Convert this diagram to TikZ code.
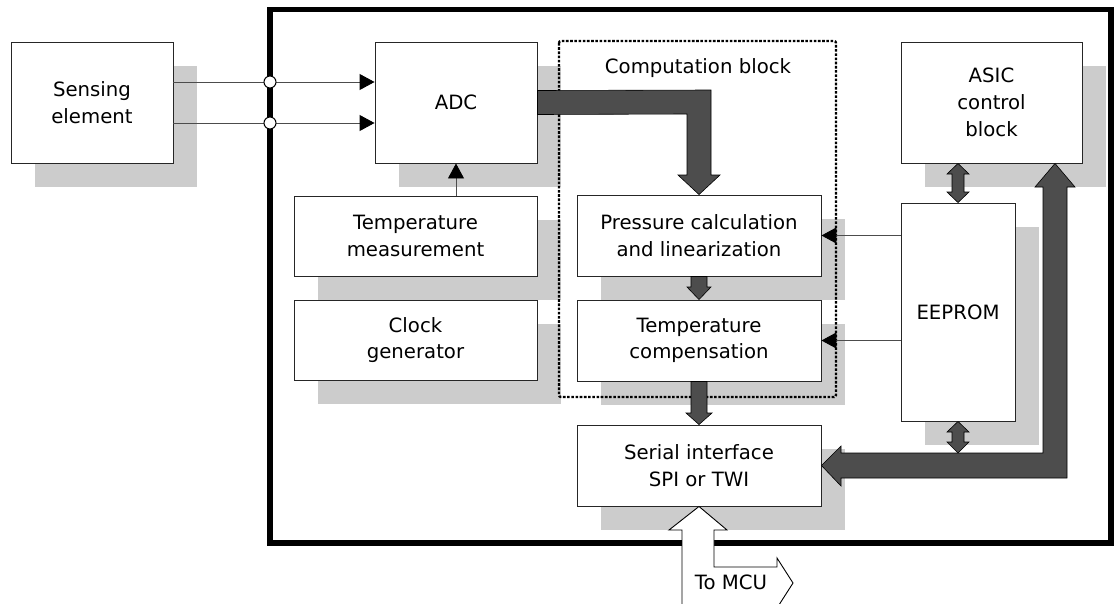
\documentclass[tikz,border=0pt]{standalone}
\usepackage{fontspec}
\setmainfont{DejaVu Sans}
\usetikzlibrary{arrows.meta,shadows,calc}
\definecolor{shade}{HTML}{CCCCCC}
\definecolor{busfill}{HTML}{4D4D4D}
\begin{document}
\begin{tikzpicture}[x=1pt,y=-1pt,
% common options for blocks:
blk/.style = {draw=black!85, line width=0.9pt, fill=white, align=center, inner sep=0,
            general shadow={fill=shade, shadow xshift=24pt, shadow yshift=-24pt}},
% fat data arrows:
fat/.style = {draw=black, line width=0.6pt, fill=busfill},
% thin signal lines:
wire/.style = {draw=black!70, line width=0.9pt, -{Triangle[length=15pt,width=16pt,color=black]}},
joint/.style = {circle, draw=black, line width=1pt, fill=white, minimum size=12pt, inner sep=0},
every node/.style = {font=\fontsize{19.7}{26.7}\selectfont}]
\useasboundingbox (0,0) rectangle (1116,603);
\clip (0,0) rectangle (1116,603);
% chip outline
\draw[line width=5.5pt] (270,9.5) rectangle (1111,543);
% blocks
\node[blk, minimum width=162pt, minimum height=121pt] (sense) at (92,102.5) {Sensing\\element};
\node[blk, minimum width=162pt, minimum height=121pt] (adc) at (456,102.5) {ADC};
\node[blk, minimum width=181pt, minimum height=121pt] (asic) at (991.5,102.5) {ASIC\\control\\block};
\node[blk, minimum width=243pt, minimum height=80pt] (tmeas) at (415.5,236) {Temperature\\measurement};
\node[blk, minimum width=243pt, minimum height=80pt] (clock) at (415.5,340) {Clock\\generator};
\node[blk, minimum width=244pt, minimum height=81pt] (press) at (699,235.5) {Pressure calculation\\and linearization};
\node[blk, minimum width=244pt, minimum height=81pt] (tcomp) at (699,340.5) {Temperature\\compensation};
\node[blk, minimum width=114pt, minimum height=218pt] (eeprom) at (958,312) {EEPROM};
\node[blk, minimum width=244pt, minimum height=81pt] (serial) at (699,465.5) {Serial interface\\SPI or TWI};
% computation block
\draw[dash pattern=on 2.6pt off 1.6pt, line width=2.4pt, rounded corners=2pt] (559,41) rectangle (836,397);
\node (comp) at (698,68) {Computation block};
% signal lines
\draw[wire] ([yshift=20.5pt]sense.east) -- ([yshift=20.5pt]adc.west);
\draw[wire] ([yshift=-20.5pt]sense.east) -- ([yshift=-20.5pt]adc.west);
\node[joint] (j1) at (270,82) {};
\node[joint] (j2) at (270,123) {};
\draw[wire] (adc.south |- tmeas.north) -- (adc.south);
\draw[wire] (eeprom.west |- press.east) -- (press.east);
\draw[wire] (eeprom.west |- tcomp.east) -- (tcomp.east);
% data paths
\draw[fat] ([yshift=12pt]adc.east) -- (711,90) -- (711,175) -- (720,175) -- (press.north)
  -- (678,175) -- (687,175) -- (687,114) -- ([yshift=-12pt]adc.east) -- cycle;
\draw[fat] ([xshift=-8pt]press.south) -- (691,287) -- (687,287) -- (tcomp.north)
  -- (711,287) -- (707,287) -- ([xshift=8pt]press.south) -- cycle;
\draw[fat] ([xshift=-8pt]tcomp.south) -- (691,413) -- (686,413) -- (serial.north)
  -- (712,413) -- (707,413) -- ([xshift=8pt]tcomp.south) -- cycle;
\draw[fat] (eeprom.north |- asic.south) -- (969,174) -- (964,174) -- (964,192) -- (969,192)
  -- (eeprom.north) -- (947,192) -- (952,192) -- (952,174) -- (947,174) -- cycle;
\draw[fat] (eeprom.south) -- (969,432) -- (964,432) -- (964,442) -- (969,442)
  -- (958,453) -- (947,442) -- (952,442) -- (952,432) -- (947,432) -- cycle;
\draw[fat] (serial.east) -- (841,446) -- (841,453) -- (1043,453) -- (1043,187) -- (1035,187)
  -- (1055,0 |- asic.south) -- (1075,187) -- (1067,187) -- (1067,478) -- (841,478)
  -- (841,486) -- cycle;
% link to the MCU
\draw[line width=0.9pt, fill=white] (serial.south) -- (727,530) -- (714,530) -- (714,567)
  -- (777,567) -- (777,558) -- (793,583) -- (777,608) -- (777,606) -- (682,606)
  -- (682,530) -- (669,530) -- cycle;
\node (mcu) at (731,582) {To MCU};
\end{tikzpicture}
\end{document}
